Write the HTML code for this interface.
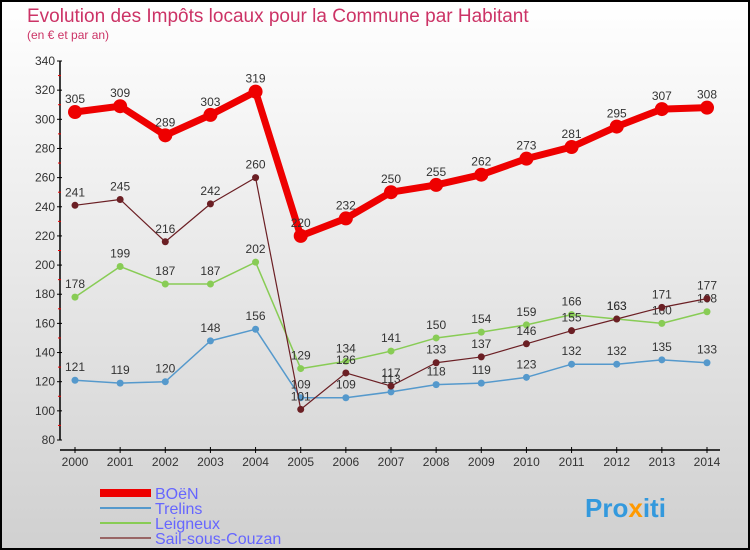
<!DOCTYPE html>
<html><head><meta charset="utf-8"><style>
body{margin:0;}
#wrap{width:750px;height:550px;position:relative;overflow:hidden;font-family:"Liberation Sans",sans-serif;}
</style></head><body>
<div id="wrap">
<svg id="chart" width="750" height="550">
<defs><linearGradient id="bg" x1="0" y1="0" x2="0" y2="1"><stop offset="0" stop-color="#ffffff"/><stop offset="1" stop-color="#d0d0d0"/></linearGradient></defs>
<rect x="1" y="1" width="748" height="548" fill="url(#bg)" stroke="#000" stroke-width="2"/>
<text x="27" y="22" font-size="19" fill="#cc3366">Evolution des Impôts locaux pour la Commune par Habitant</text>
<text x="27" y="39" font-size="12" fill="#cc3366">(en € et par an)</text>
<g id="axes"></g><g id="series"></g><g id="legend"></g>
<text x="585" y="517" font-size="26" font-weight="bold" fill="#3399dd">Pro<tspan fill="#ff9900">x</tspan>iti</text>
</svg></div>
<script>
const years=[2000,2001,2002,2003,2004,2005,2006,2007,2008,2009,2010,2011,2012,2013,2014];
const yTicks=[80,100,120,140,160,180,200,220,240,260,280,300,320,340];
const boen=[305,309,289,303,319,220,232,250,255,262,273,281,295,307,308];
const trelins=[121,119,120,148,156,109,109,113,118,119,123,132,132,135,133];
const leigneux=[178,199,187,187,202,129,134,141,150,154,159,166,163,160,168];
const sail=[241,245,216,242,260,101,126,117,133,137,146,155,163,171,177];
const seriesNames=["BOëN","Trelins","Leigneux","Sail-sous-Couzan"];
const NS="http://www.w3.org/2000/svg";
function X(i){return 75+i*(707-75)/(years.length-1);}
function Y(v){return 440-(v-80)*(440-61)/260;}
function mk(tag,attrs,parent,text){const e=document.createElementNS(NS,tag);for(const k in attrs)e.setAttribute(k,attrs[k]);if(text!==undefined)e.textContent=text;parent.appendChild(e);return e;}
const axes=document.getElementById('axes');
let e=mk('line',{x1:60,y1:Y(340),x2:60,y2:Y(80),stroke:'#000','stroke-width':1.5},axes);

e=mk('line',{x1:60,y1:450,x2:720,y2:450,stroke:'#000','stroke-width':1.5},axes);

yTicks.forEach((t,i)=>{
  mk('line',{x1:57,y1:Y(t),x2:62,y2:Y(t),stroke:'#000'},axes);
  if(i<yTicks.length-1)mk('line',{x1:58,y1:Y(t+10),x2:61,y2:Y(t+10),stroke:'#e00'},axes);
  const l=mk('text',{x:55,y:Y(t)+4,'font-size':12,'text-anchor':'end',fill:'#333'},axes,t);
  
});
years.forEach((yr,i)=>{
  mk('line',{x1:X(i),y1:447,x2:X(i),y2:453,stroke:'#000'},axes);
  const l=mk('text',{x:X(i),y:466,'font-size':12,'text-anchor':'middle',fill:'#333'},axes,yr);
  
});
const sg=document.getElementById('series');
function draw(data,color,w,r,name){
  const g=mk('g',{},sg);
  
  const p=mk('polyline',{points:data.map((v,i)=>X(i)+','+Y(v)).join(' '),fill:'none',stroke:color,'stroke-width':w,'stroke-linejoin':'round'},g);
  
  data.forEach((v,i)=>{
    const c=mk('circle',{cx:X(i),cy:Y(v),r:r,fill:color},g);
    
    const t=mk('text',{x:X(i),y:Y(v)-9,'font-size':12,'text-anchor':'middle',fill:'#333'},g,v);
    
  });
}
draw(trelins,'#5599cc',1.5,3.5,'trelins');
draw(leigneux,'#88cc55',1.5,3.5,'leigneux');
draw(sail,'#6b1f24',1.2,3.5,'sail-sous-couzan');
draw(boen,'#ee0000',7,7,'boen');
const lg=document.getElementById('legend');
const lcol=['#ee0000','#5599cc','#88cc55','#996666'];const lw=[8,2,2,2];
seriesNames.forEach((n,i)=>{
  const y=493+i*15;
  const l=mk('line',{x1:100,y1:y,x2:151,y2:y,stroke:lcol[i],'stroke-width':lw[i]},lg);
  
  const t=mk('text',{x:155,y:y+6,'font-size':16,fill:'#6666ff'},lg,n);
  
});
</script>
</body></html>
